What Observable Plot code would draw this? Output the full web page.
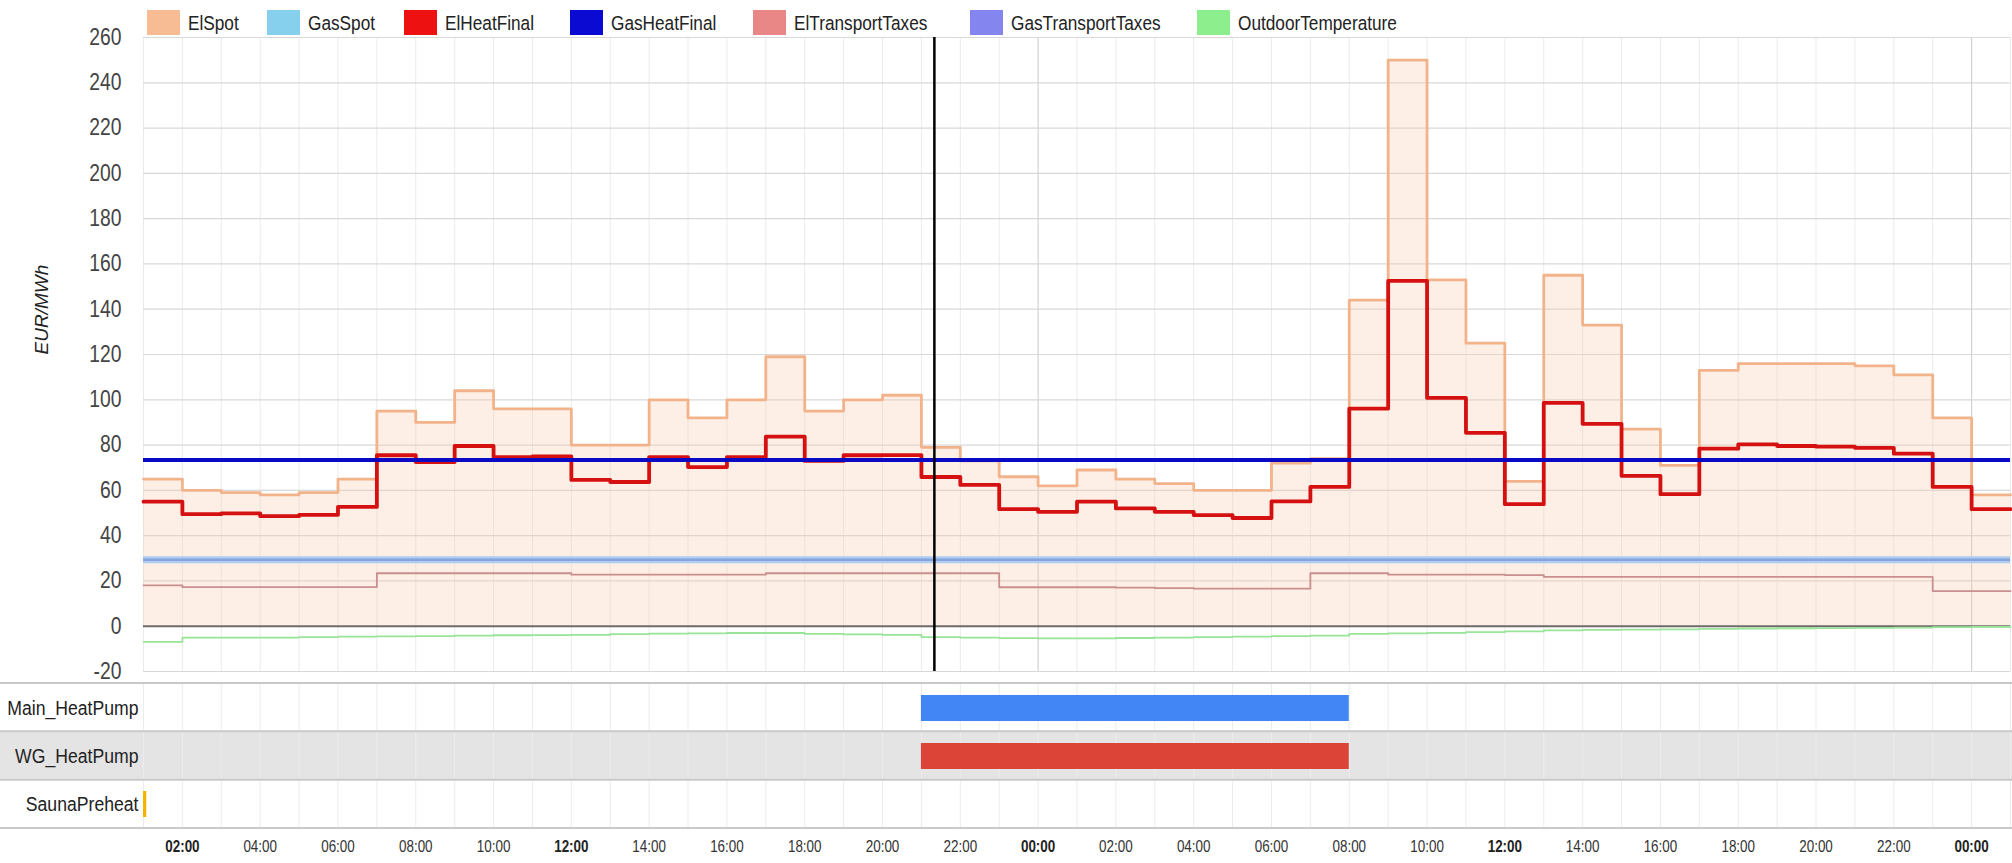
<!DOCTYPE html>
<html><head><meta charset="utf-8">
<script src="https://cdn.jsdelivr.net/npm/d3@7"></script>
<script src="https://cdn.jsdelivr.net/npm/@observablehq/plot@0.6"></script>
<style>
body{margin:0;background:#fff;}
#wrap{position:relative;width:2012px;height:863px;overflow:hidden;background:#fff;
  font-family:"Liberation Sans",Arial,sans-serif;}
#legend{position:absolute;top:0;left:0;width:2012px;height:37px;z-index:3;}
.item{position:absolute;top:10px;height:25px;display:flex;align-items:center;font-size:20.5px;color:#222;white-space:nowrap;}
.sw{width:33px;height:25px;margin-right:8px;flex:none;}
.item span{display:inline-block;transform:scaleX(0.84);transform-origin:left center;}
#main{position:relative;z-index:2;height:675px;}
#tl{position:relative;z-index:1;}
#main svg{overflow:visible;}
</style></head><body>
<div id="wrap"><div id="legend"></div><div id="main"></div><div id="tl"></div></div>
<script>
// ---------- data (hourly, first hour = 01:00 day 1, last = 00:00 day 3) ----------
const startISO = "2023-01-09T01:00:00Z";
const seriesNames = ["ElSpot","GasSpot","ElHeatFinal","GasHeatFinal","ElTransportTaxes","GasTransportTaxes","OutdoorTemperature"];
const seriesColors = ["#f8bc94","#86d0ee","#ee1111","#0a0ad2","#e98686","#8585f0","#8cee8c"];
const elSpot = [65,60,59,58,59,65,95,90,104,96,96,80,80,100,92,100,119,95,100,102,79,73,66,62,
                69,65,63,60,60,72,74,144,250,153,125,64,155,133,87,71,113,116,116,116,115,111,92,58];
const elHeatFinal = [55,49.5,49.8,48.6,49.2,52.7,75.5,72.5,79.6,74.7,75,64.6,63.7,74.7,70.3,74.7,83.7,73,75.5,75.6,65.9,62.4,51.7,50.5,
                     55,52,50.5,49.1,47.8,55.1,61.5,96.1,152.5,100.8,85.4,53.9,98.6,89.4,66.4,58.3,78.4,80.3,79.6,79.3,78.8,76.2,61.5,51.7];
const elTransportTaxes = [18,17.3,17.3,17.3,17.3,17.3,23.4,23.4,23.4,23.4,23.4,22.8,22.8,22.8,22.8,22.8,23.4,23.4,23.4,23.4,23.4,23.4,17.2,17.2,
                          17.2,17.0,16.8,16.6,16.6,16.6,23.4,23.4,22.8,22.8,22.8,22.6,21.8,21.8,21.8,21.8,21.8,21.8,21.8,21.8,21.8,21.8,15.5,15.5];
const outdoorTemperature = [-6.9,-5.0,-5.0,-5.0,-4.8,-4.6,-4.5,-4.4,-4.2,-4.0,-3.9,-3.8,-3.5,-3.3,-3.2,-3.0,-3.0,-3.4,-3.6,-3.8,-4.8,-5.0,-5.3,-5.4,
                            -5.4,-5.2,-5.0,-4.8,-4.6,-4.4,-4.2,-3.4,-3.2,-2.9,-2.6,-2.3,-1.8,-1.6,-1.5,-1.4,-1.2,-1.0,-0.9,-0.8,-0.7,-0.6,-0.4,-0.3];
const gasSpot = 29.3;
const gasTransportTaxes = 29.3;
const gasHeatFinal = 73.4;
const nowISO = "2023-01-09T21:20:00Z";
const yTicks = [-20,0,20,40,60,80,100,120,140,160,180,200,220,240,260];
const rowNames = ["Main_HeatPump","WG_HeatPump","SaunaPreheat"];
const schedule = [
  {row:"Main_HeatPump", start:"2023-01-09T21:00:00Z", end:"2023-01-10T08:00:00Z", color:"#4285f4"},
  {row:"WG_HeatPump",   start:"2023-01-09T21:00:00Z", end:"2023-01-10T08:00:00Z", color:"#db4437"},
  {row:"SaunaPreheat",  start:"2023-01-09T01:00:00Z", end:"2023-01-09T01:05:00Z", color:"#f4b400"}
];
const boldTickHours = [12, 0];

// ---------- build ----------
const FONT = '"Liberation Sans",Arial,sans-serif';
const SQUEEZE = 0.84;
const H = 3600e3;
const t0 = new Date(startISO);
const tEnd = new Date(t0.getTime() + elSpot.length * H);
const rows = elSpot.map((v, i) => ({t: new Date(t0.getTime() + i * H), elSpot: v, elHeat: elHeatFinal[i], elTax: elTransportTaxes[i], temp: outdoorTemperature[i]}));
rows.push({...rows[rows.length - 1], t: tEnd});
const hourTicks = d3.utcHour.range(t0, new Date(tEnd.getTime() + 1));
const labelTicks = d3.utcHour.every(2).range(new Date(t0.getTime() + H), new Date(tEnd.getTime()));
const fmt = d3.utcFormat("%H:%M");
const isBold = (d, i) => i === 0 || boldTickHours.includes(d.getUTCHours());

function squeeze(svg) {
  svg.querySelectorAll("text").forEach(t => {
    const tr = t.getAttribute("transform") || "";
    if (tr.includes("rotate")) return;
    const x = t.getAttribute("x");
    let extra = "";
    if (x !== null && !isNaN(+x)) { extra = ` translate(${+x},0)`; t.removeAttribute("x"); }
    t.setAttribute("transform", `${tr}${extra} scale(${SQUEEZE},1)`);
  });
  return svg;
}

// legend
const legendLeft = [147, 267, 404, 570, 753, 970, 1197];
const lg = document.getElementById("legend");
seriesNames.forEach((n, i) => {
  const it = document.createElement("div");
  it.className = "item"; it.style.left = legendLeft[i] + "px";
  it.innerHTML = `<div class="sw" style="background:${seriesColors[i]}"></div><span>${n}</span>`;
  lg.appendChild(it);
});

const stepLine = (y, o) => Plot.lineY(rows, {x: "t", y, curve: "step-after", ...o});

const main = Plot.plot({
  width: 2012, height: 675,
  marginTop: 37, marginBottom: 4, marginLeft: 143, marginRight: 2,
  style: {fontFamily: FONT, fontSize: "23px", color: "#444", background: "transparent", overflow: "visible"},
  x: {type: "utc", domain: [t0, tEnd], axis: null},
  y: {domain: [-20, 260], ticks: yTicks, tickSize: 0, tickPadding: 22, label: null, tickFormat: d => d},
  marks: [
    Plot.ruleX(hourTicks.filter(d => d.getUTCHours() !== 0), {stroke: "#ebebeb", strokeWidth: 1}),
    Plot.ruleX(hourTicks.filter(d => d.getUTCHours() === 0), {stroke: "#d2d2d2", strokeWidth: 1.2}),
    Plot.ruleY(yTicks.filter(d => d !== 0), {stroke: "#d8d8d8", strokeWidth: 1.2}),
    Plot.areaY(rows, {x: "t", y: "elSpot", curve: "step-after", fill: "#f9c9a8", fillOpacity: 0.3}),
    Plot.ruleY([0], {stroke: "#6e6a6a", strokeWidth: 2}),
    stepLine("elSpot", {stroke: "#f2b38a", strokeWidth: 2.8}),
    Plot.ruleY([gasSpot], {stroke: "#aecdf0", strokeWidth: 7}),
    stepLine("elHeat", {stroke: "#d41010", strokeWidth: 3.8}),
    Plot.ruleY([gasHeatFinal], {stroke: "#0a0ac4", strokeWidth: 4}),
    stepLine("elTax", {stroke: "#c98e8e", strokeWidth: 1.8}),
    Plot.ruleY([gasTransportTaxes], {stroke: "#86a3de", strokeWidth: 2.5}),
    stepLine("temp", {stroke: "#98e498", strokeWidth: 1.8}),
    Plot.ruleX([new Date(nowISO)], {stroke: "#000", strokeWidth: 2.5}),
    Plot.text(["EUR/MWh"], {frameAnchor: "left", text: d => d, rotate: -90, dx: -102, fontStyle: "italic", fontSize: 19, fill: "#222"})
  ]
});
document.getElementById("main").appendChild(squeeze(main));

const tl = Plot.plot({
  width: 2012, height: 188,
  marginTop: 8, marginBottom: 35, marginLeft: 143, marginRight: 2,
  style: {fontFamily: FONT, fontSize: "20px", color: "#222", background: "transparent"},
  x: {type: "utc", domain: [t0, tEnd], axis: null},
  y: {type: "band", domain: rowNames, padding: 0, axis: null},
  color: {type: "identity"},
  marks: [
    Plot.barX(["WG_HeatPump"], {x1: () => t0, x2: () => tEnd, y: d => d, fill: "#e4e4e4", insetLeft: -160, insetRight: -20}),
    Plot.ruleX(hourTicks, {stroke: "#ececec", strokeWidth: 1}),
    (index, scales, values, dim) => {
      const g = d3.create("svg:g");
      const bw = (dim.height - dim.marginTop - dim.marginBottom) / rowNames.length;
      for (let k = 0; k <= rowNames.length; k++) {
        const y = dim.marginTop + k * bw;
        g.append("line").attr("x1", 0).attr("x2", dim.width).attr("y1", y).attr("y2", y)
          .attr("stroke", "#c9c9c9").attr("stroke-width", 2);
      }
      return g.node();
    },
    Plot.barX(schedule, {x1: d => new Date(d.start), x2: d => new Date(d.end), y: "row", fill: "color", insetTop: 11, insetBottom: 11}),
    Plot.text(rowNames, {y: d => d, text: d => d, frameAnchor: "left", dx: -5, textAnchor: "end", fontSize: 21, fill: "#222"}),
    Plot.text(labelTicks.filter((d, i) => !isBold(d, i)), {x: d => d, text: d => fmt(d), frameAnchor: "bottom", dy: 23, fontSize: 16, fill: "#333"}),
    Plot.text(labelTicks.filter((d, i) => isBold(d, i)), {x: d => d, text: d => fmt(d), frameAnchor: "bottom", dy: 23, fontSize: 16, fontWeight: "bold", fill: "#222"})
  ]
});
document.getElementById("tl").appendChild(squeeze(tl));
</script>
</body></html>
